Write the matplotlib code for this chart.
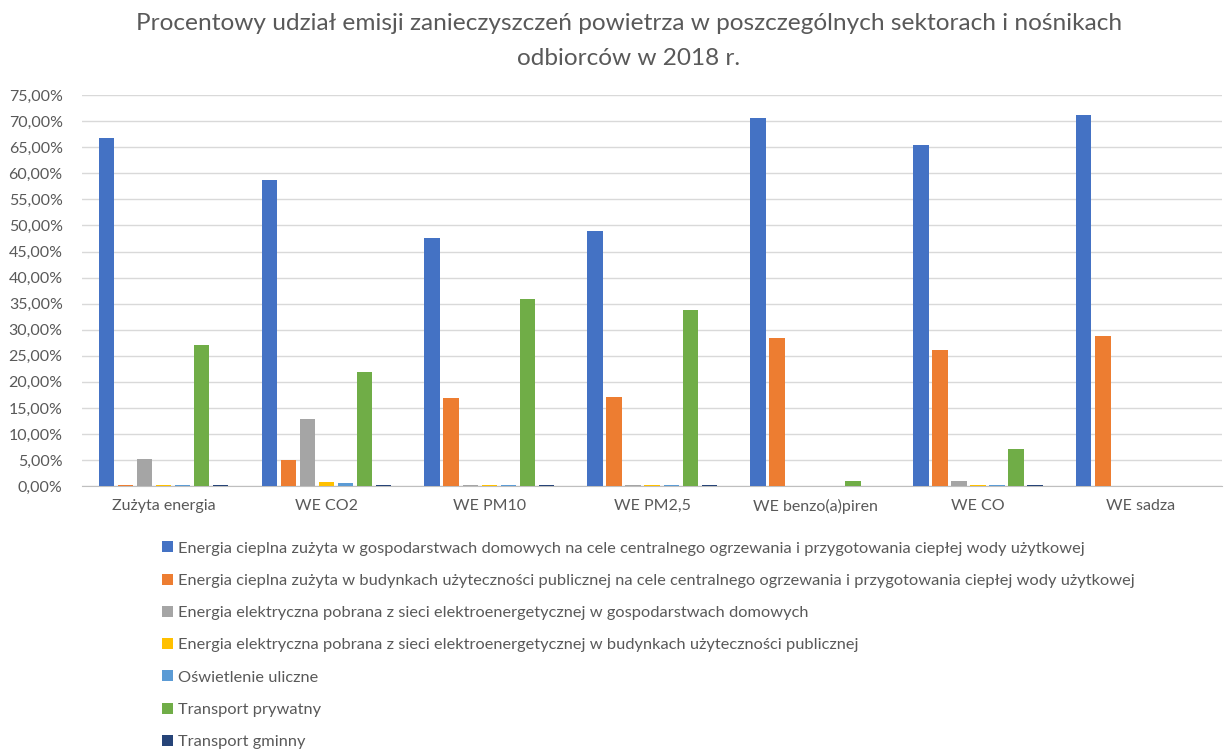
import numpy as np
import matplotlib.pyplot as plt
from matplotlib.ticker import FuncFormatter

plt.rcParams['font.family'] = ['Lato', 'DejaVu Sans']

kategorie = ['Zużyta energia', 'WE CO2', 'WE PM10', 'WE PM2,5',
             'WE benzo(a)piren', 'WE CO', 'WE sadza']

serie = [
    'Energia cieplna zużyta w gospodarstwach domowych na cele centralnego ogrzewania i przygotowania ciepłej wody użytkowej',
    'Energia cieplna zużyta w budynkach użyteczności publicznej na cele centralnego ogrzewania i przygotowania ciepłej wody użytkowej',
    'Energia elektryczna pobrana z sieci elektroenergetycznej w gospodarstwach domowych',
    'Energia elektryczna pobrana z sieci elektroenergetycznej w budynkach użyteczności publicznej',
    'Oświetlenie uliczne',
    'Transport prywatny',
    'Transport gminny',
]

# udział procentowy, kolejno dla kategorii
cieplna_dom = [66.8, 58.7, 47.6, 48.9, 70.6, 65.4, 71.2]
cieplna_pub = [0.3, 5.0, 16.9, 17.1, 28.4, 26.1, 28.8]
elektr_dom = [5.2, 12.9, 0.3, 0.3, 0.0, 1.0, 0.0]
elektr_pub = [0.3, 0.8, 0.3, 0.3, 0.0, 0.3, 0.0]
oswietlenie = [0.3, 0.6, 0.3, 0.3, 0.0, 0.3, 0.0]
transport_pryw = [27.1, 21.9, 35.9, 33.8, 1.0, 7.1, 0.0]
transport_gmin = [0.3, 0.3, 0.3, 0.3, 0.0, 0.3, 0.0]

wartosci = [cieplna_dom, cieplna_pub, elektr_dom, elektr_pub,
            oswietlenie, transport_pryw, transport_gmin]
kolory = ['#4472C4', '#ED7D31', '#A5A5A5', '#FFC000', '#5B9BD5', '#70AD47', '#264478']

fig = plt.figure(figsize=(12.26, 7.49), dpi=100)
ax = fig.add_axes([0.067, 0.351, 0.930, 0.522])

x = np.arange(len(kategorie))
krok = 0.117
szer = 0.095
for i, (wart, kol) in enumerate(zip(wartosci, kolory)):
    ax.bar(x + (i - 3) * krok, wart, szer, color=kol, label=serie[i], zorder=3)

ax.set_xlim(-0.5, len(kategorie) - 0.5)
ax.set_ylim(0, 75)
ax.set_yticks(np.arange(0, 76, 5))
ax.yaxis.set_major_formatter(FuncFormatter(lambda v, p: f'{v:.2f}%'.replace('.', ',')))
ax.set_xticks(x)
ax.set_xticklabels(kategorie)
ax.tick_params(axis='both', length=0, labelsize=11.5, colors='#595959', pad=9)
ax.tick_params(axis='y', pad=14)
ax.grid(axis='y', color='#d9d9d9', linewidth=1, zorder=0)
for s in ['top', 'right', 'left']:
    ax.spines[s].set_visible(False)
ax.spines['bottom'].set_color('#bfbfbf')

fig.text(0.513, 0.945, 'Procentowy udział emisji zanieczyszczeń powietrza w poszczególnych sektorach i nośnikach\nodbiorców w 2018 r.',
         ha='center', va='center', fontsize=17.6, color='#595959', linespacing=1.85)

fig.legend(loc='upper left', bbox_to_anchor=(0.127, 0.286), ncol=1, frameon=False,
           fontsize=11.8, labelcolor='#595959', handlelength=0.65, handleheight=0.65,
           handletextpad=0.3, labelspacing=1.1, borderaxespad=0)

fig.savefig('out.png', dpi=100)
